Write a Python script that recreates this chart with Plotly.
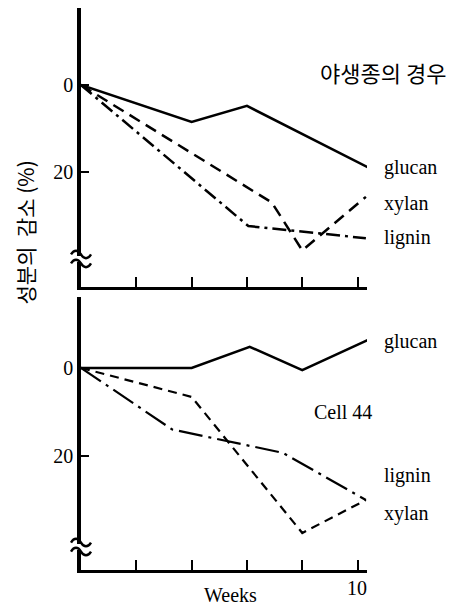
import plotly.graph_objects as go
from plotly.subplots import make_subplots

# ---- data (weeks, % decrease) ----
wild_glucan_x = [0, 4, 6, 10.4]
wild_glucan_y = [0, 8.5, 4.8, 19]
wild_xylan_x = [0, 6.9, 8, 10.3]
wild_xylan_y = [0, 27, 38, 25.7]
wild_lignin_x = [0, 6.05, 10.3]
wild_lignin_y = [0, 32.4, 35.2]

cell_glucan_x = [0, 4, 6.1, 8, 10.4]
cell_glucan_y = [0, 0, -4.8, 0.5, -6.4]
cell_xylan_x = [0, 4, 8, 10.3]
cell_xylan_y = [0, 6.6, 37.5, 30]
cell_lignin_x = [0, 3.3, 7.3, 10.3]
cell_lignin_y = [0, 14, 19.3, 30]

x_ticks = [0, 2, 4, 6, 8, 10]
y_ticks = [0, 20]
y_tick_labels = ["0", "20"]

SERIF = "Liberation Serif"
KR = "Noto Sans CJK KR"

fig = make_subplots(rows=2, cols=1, vertical_spacing=0.0)

def add_line(x, y, row, dash, width=2.5):
    fig.add_trace(go.Scatter(x=x, y=y, mode="lines",
                             line=dict(color="black", width=width, dash=dash),
                             showlegend=False, hoverinfo="skip"), row=row, col=1)

add_line(wild_glucan_x, wild_glucan_y, 1, "solid")
add_line(wild_xylan_x, wild_xylan_y, 1, "12px,7px")
add_line(wild_lignin_x, wild_lignin_y, 1, "14px,5px,3px,5px")
add_line(cell_glucan_x, cell_glucan_y, 2, "solid")
add_line(cell_xylan_x, cell_xylan_y, 2, "9px,6px", 2.2)
add_line(cell_lignin_x, cell_lignin_y, 2, "24px,6px,3px,6px", 2.2)

axis_common = dict(showgrid=False, zeroline=False, showline=True,
                   linecolor="black", ticks="inside", tickcolor="black")

fig.update_xaxes(range=[0, 10.34], tickvals=x_ticks, showticklabels=False,
                 linewidth=3, ticklen=10, tickwidth=2, **axis_common)
fig.update_yaxes(tickvals=y_ticks, ticktext=y_tick_labels, linewidth=3.5,
                 ticklen=8, tickwidth=2,
                 tickfont=dict(family=SERIF, size=20, color="black"),
                 **axis_common)
fig.update_yaxes(range=[46.4, -17.7], row=1, col=1)
fig.update_yaxes(range=[45.9, -16.1], row=2, col=1)

# page body adds an 8px offset, so the figure is 8px smaller on left/top
fig.update_layout(
    width=450, height=599,
    margin=dict(l=73, r=91, t=0, b=37),
    paper_bgcolor="white", plot_bgcolor="white",
    font=dict(family=SERIF, color="black"),
    xaxis=dict(domain=[0, 1]),
    yaxis=dict(domain=[0.5036, 1.0]),
    xaxis2=dict(domain=[0, 1]),
    yaxis2=dict(domain=[0.0, 0.4858]),
)

# axis break marks (paper refs so they are not clipped by the plot area)
for ya in (0.5534, 0.0409):
    fig.add_shape(type="rect", xref="paper", yref="paper",
                  xsizemode="pixel", ysizemode="pixel", xanchor=0, yanchor=ya,
                  x0=-4, x1=4, y0=-3, y1=3, fillcolor="white",
                  line=dict(width=0), layer="above")
    for off in (-4.5, 4.5):
        fig.add_shape(type="path", xref="paper", yref="paper",
                      xsizemode="pixel", ysizemode="pixel", xanchor=0, yanchor=ya,
                      path=(f"M -10,{off} C -7,{off+5} -3,{off+5} 0,{off} "
                            f"S 7,{off-5} 10,{off}"),
                      line=dict(color="black", width=2.4), layer="above")

def ann(text, x, y, xanchor="left", size=20, font=SERIF, **kw):
    fig.add_annotation(text=text, x=x, y=y, xref="paper", yref="paper",
                       xanchor=xanchor, yanchor="middle", showarrow=False,
                       font=dict(family=font, size=size, color="black"), **kw)

# top panel labels
ann("야생종의 경우", 1.056, 0.886, xanchor="center", size=22, font=KR)
ann("glucan", 1.052, 0.717)
ann("xylan", 1.052, 0.653)
ann("lignin", 1.052, 0.591)
# bottom panel labels
ann("glucan", 1.052, 0.406)
ann("Cell 44", 0.916, 0.281, xanchor="center")
ann("lignin", 1.052, 0.169)
ann("xylan", 1.052, 0.101)

ann("Weeks", 0.521, -0.045, xanchor="center")
ann("10", 0.965, -0.032, xanchor="center")
ann("성분의  감소 (%)", -0.197, 0.600, xanchor="center",
    size=21, font=KR, textangle=-90, borderpad=0)

fig.write_html("out.html")
